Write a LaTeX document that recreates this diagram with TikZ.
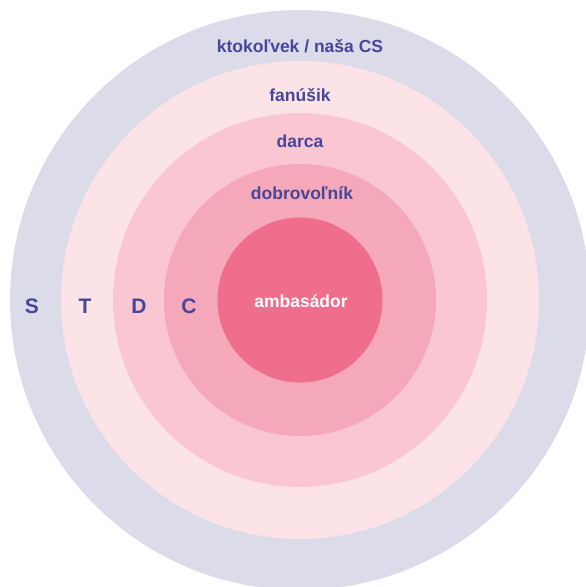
\documentclass[tikz,border=0pt]{standalone}
\usepackage{fontspec}
\setmainfont{Liberation Sans}
\definecolor{ringS}{HTML}{DCDBE9}
\definecolor{ringT}{HTML}{FCE3E8}
\definecolor{ringD}{HTML}{FAC6D2}
\definecolor{ringC}{HTML}{F5A8B9}
\definecolor{ringA}{HTML}{EE6E8C}
\definecolor{labelcol}{HTML}{46479B}
\tikzset{
  ring/.style={circle, inner sep=0pt, draw=none},
  lbl/.style={text=labelcol, font=\fontsize{17.5}{20}\selectfont\bfseries, inner sep=0pt},
  letter/.style={text=labelcol, font=\fontsize{21}{24}\selectfont\bfseries, inner sep=0pt},
}
\begin{document}
\begin{tikzpicture}[x=1pt,y=-1pt]
\useasboundingbox (0,0) rectangle (586,587);
\clip (0,0) rectangle (586,587);
\node[ring, fill=ringS, minimum size=580pt] (s) at (300,300) {};
\node[ring, fill=ringT, minimum size=478pt] (t) at (300,300) {};
\node[ring, fill=ringD, minimum size=374pt] (d) at (300,300) {};
\node[ring, fill=ringC, minimum size=272pt] (c) at (300,300) {};
\node[ring, fill=ringA, minimum size=165pt] (a) at (300,300) {};
\node[lbl] (ls) at (300,46) {ktokoľvek / naša CS};
\node[lbl] (lt) at (300,95) {fanúšik};
\node[lbl] (ld) at (300,141) {darca};
\node[lbl] (lc) at (302,193) {dobrovoľník};
\node[lbl, text=white] (la) at (301,301) {ambasádor};
\node[letter] (xs) at (32,306) {S};
\node[letter] (xt) at (85,306) {T};
\node[letter] (xd) at (139,306) {D};
\node[letter] (xc) at (189,306) {C};
\end{tikzpicture}
\end{document}
